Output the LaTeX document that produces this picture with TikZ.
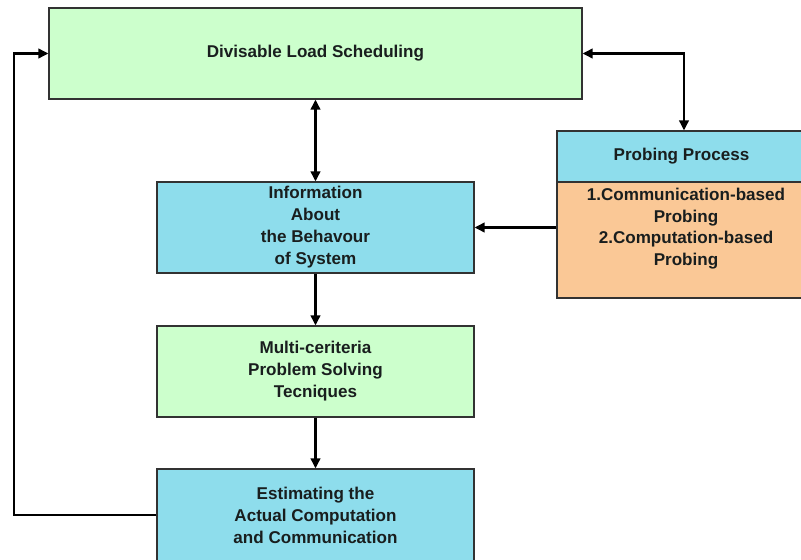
\documentclass[tikz,border=0pt]{standalone}
\usepackage{fontspec}
\setmainfont{Liberation Sans}
\usetikzlibrary{arrows.meta}
\definecolor{boxgreen}{RGB}{204,255,204}
\definecolor{boxcyan}{RGB}{142,221,236}
\definecolor{boxpeach}{RGB}{250,200,150}
\definecolor{edgegray}{RGB}{50,50,50}
\definecolor{txtcol}{RGB}{25,30,30}
\begin{document}
\begin{tikzpicture}[x=0.75pt,y=-0.75pt,
  box/.style={draw=edgegray, line width=0.8pt, rectangle, inner sep=0pt,
    text=txtcol, font=\bfseries\fontsize{12.8}{16.5}\selectfont, align=center},
  txt/.style={text=txtcol, font=\bfseries\fontsize{12.8}{16.2}\selectfont, align=center, inner sep=0pt},
  conn/.style={line width=1.9pt, black, arrows={-{Triangle[length=7.5pt,width=7pt]}}},
  conn2/.style={line width=1.9pt, black, arrows={{Triangle[length=7.5pt,width=7pt]}-{Triangle[length=7.5pt,width=7pt]}}}]
\useasboundingbox (0,0) rectangle (801,560);
\fill[white] (0,0) rectangle (801,560);
\clip (0,0) rectangle (801,560);

\node[box, fill=boxgreen, minimum width=399.75pt, minimum height=68.25pt] (top) at (315.5,53.5) {Divisable Load Scheduling};
\node[box, fill=boxcyan, minimum width=237.75pt, minimum height=68.25pt] (info) at (315.5,227.5) {Information\\About\\the Behavour\\ of System};
\node[box, fill=boxgreen, minimum width=237.75pt, minimum height=68.25pt] (multi) at (315.5,371.5) {Multi-ceriteria\\Problem Solving\\Tecniques};
\node[box, fill=boxcyan, minimum width=237.75pt, minimum height=69pt] (est) at (315.5,515) {Estimating the\\Actual Computation\\and Communication};

\node[box, fill=boxpeach, minimum width=186.75pt, minimum height=87pt] (pbody) at (681.5,240) {};
\node[box, fill=boxcyan, minimum width=186.75pt, minimum height=38.25pt] (phead) at (681.5,156.5) {Probing Process};
\node[txt, anchor=north] (ptext) at (686,188) {1.Communication-based\\Probing\\2.Computation-based\\Probing};

\coordinate (lc) at (14,0);
\coordinate (rc) at (684,0);

\draw[conn2] (top.south) -- (info.north);
\draw[conn] (info.south) -- (multi.north);
\draw[conn] (multi.south) -- (est.north);
\draw[conn2] (top.east) -- (top.east -| rc) -- (rc |- phead.north);
\draw[conn] (pbody.west |- info.east) -- (info.east);
\draw[conn] (est.west) -- (est.west -| lc) -- (lc |- top.west) -- (top.west);
\end{tikzpicture}
\end{document}
